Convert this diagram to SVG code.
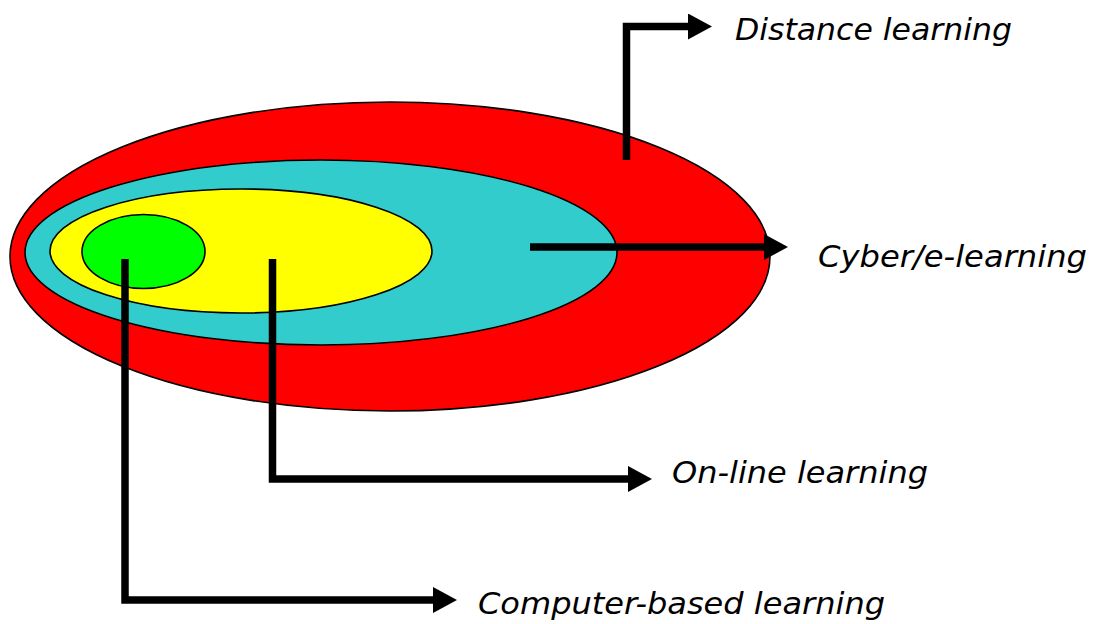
<svg xmlns="http://www.w3.org/2000/svg" width="1093" height="624" viewBox="0 0 1093 624">
<style>
.n { stroke: #000; stroke-width: 1.6; }
.c { fill: none; stroke: #000; stroke-width: 7.5; stroke-linejoin: miter; stroke-linecap: butt; marker-end: url(#ah); }
.t { font-family: "DejaVu Sans", Verdana, sans-serif; font-style: italic; font-size: 30px; fill: #000; }
</style>
<defs>
<marker id="ah" viewBox="0 0 24 26" refX="0" refY="13" markerWidth="24" markerHeight="26" markerUnits="userSpaceOnUse" orient="auto">
<path d="M0,0 L24,13 L0,26 Z" fill="#000"/>
</marker>
</defs>
<rect width="1093" height="624" fill="#fff"/>
<g id="distance">
<ellipse class="n" cx="390" cy="256.5" rx="380" ry="154.5" fill="#FF0000"/>
</g>
<g id="cyber">
<ellipse class="n" cx="321" cy="252.5" rx="296" ry="92.5" fill="#33CCCC"/>
</g>
<g id="online">
<ellipse class="n" cx="241" cy="251" rx="191" ry="62" fill="#FFFF00"/>
</g>
<g id="computer">
<ellipse class="n" cx="143.5" cy="251.5" rx="61.5" ry="37" fill="#00FF00"/>
</g>
<g id="connectors">
<path class="c" d="M626.5,160 V26.5 H688"/>
<path class="c" d="M530,247 H764"/>
<path class="c" d="M272.5,259 V479 H628"/>
<path class="c" d="M125,259 V600 H433"/>
</g>
<g id="labels">
<text class="t" x="735" y="40" textLength="277" lengthAdjust="spacingAndGlyphs">Distance learning</text>
<text class="t" x="818" y="267" textLength="269" lengthAdjust="spacingAndGlyphs">Cyber/e-learning</text>
<text class="t" x="672" y="483" textLength="256" lengthAdjust="spacingAndGlyphs">On-line learning</text>
<text class="t" x="478" y="614" textLength="407" lengthAdjust="spacingAndGlyphs">Computer-based learning</text>
</g>
</svg>
